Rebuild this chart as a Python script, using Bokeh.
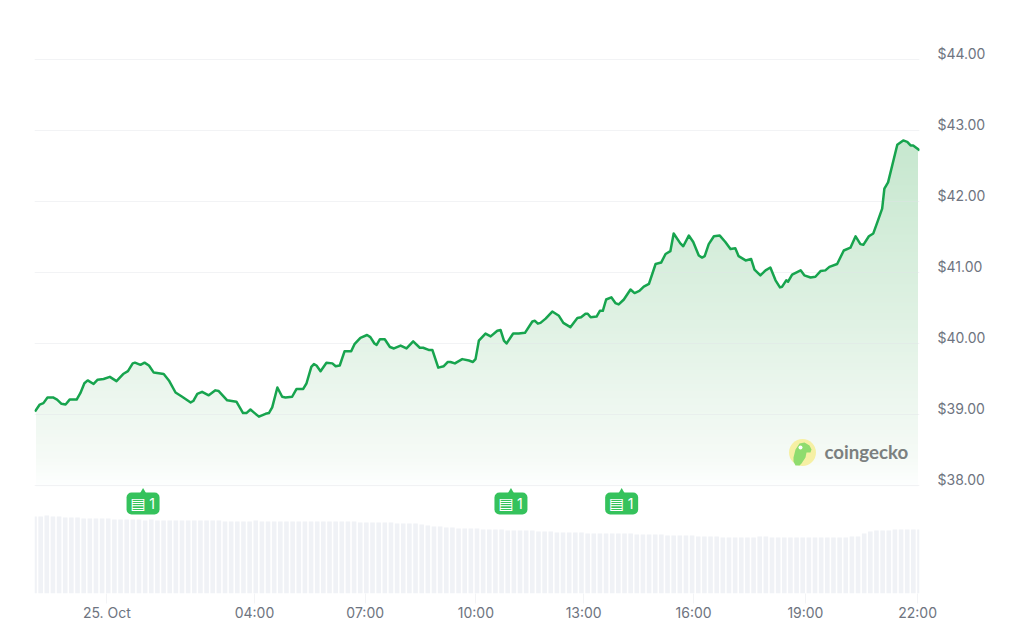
from bokeh.plotting import figure
from bokeh.models import Range1d, LinearAxis, FixedTicker
from bokeh.embed import file_html
from bokeh.resources import INLINE
import numpy as np

# hours relative to 25 Oct 00:00
hours = [-1.95,-1.82,-1.72,-1.61,-1.46,-1.35,-1.23,-1.12,-1.01,-0.82,-0.72,-0.61,-0.52,-0.36,-0.25,-0.09,
 0.08,0.26,0.44,0.57,0.70,0.76,0.91,1.02,1.14,1.27,1.54,1.68,1.86,2.04,2.27,2.34,2.45,2.58,2.76,2.94,3.03,3.26,3.51,3.69,3.78,3.89,3.98,
 4.12,4.30,4.39,4.48,4.62,4.75,4.84,5.02,5.14,5.32,5.41,5.54,5.61,5.68,5.79,5.95,6.11,6.20,6.31,6.44,6.62,6.71,6.87,
 7.05,7.14,7.25,7.31,7.40,7.53,7.67,7.78,7.96,8.12,8.30,8.48,8.57,8.72,8.82,8.98,9.13,9.24,9.31,9.43,9.63,9.81,9.92,9.99,
 10.08,10.26,10.40,10.58,10.67,10.76,10.83,11.01,11.16,11.33,11.53,11.60,11.68,11.75,11.89,12.07,12.25,12.37,12.56,12.75,12.85,12.97,
 13.03,13.11,13.27,13.36,13.44,13.53,13.67,13.78,13.87,14.01,14.19,14.30,14.43,14.55,14.69,14.87,15.02,15.14,15.27,15.36,15.54,15.62,15.77,15.89,
 16.04,16.13,16.20,16.31,16.45,16.61,16.76,16.90,17.03,17.12,17.31,17.46,17.55,17.71,17.85,17.98,18.12,18.24,18.30,18.41,18.46,18.57,18.80,18.90,
 19.07,19.20,19.34,19.47,19.58,19.79,19.97,20.15,20.29,20.42,20.50,20.65,20.77,20.88,21.01,21.07,21.17,21.42,21.58,21.69,21.78,21.85,22.03]
prices = [39.04,39.14,39.16,39.24,39.24,39.21,39.15,39.14,39.21,39.21,39.30,39.44,39.48,39.43,39.49,39.50,
 39.53,39.47,39.57,39.61,39.72,39.73,39.70,39.73,39.69,39.59,39.57,39.48,39.31,39.25,39.17,39.19,39.29,39.32,39.27,39.34,39.33,39.20,39.18,39.02,39.02,39.07,39.03,
 38.97,39.01,39.02,39.10,39.38,39.25,39.24,39.25,39.36,39.36,39.44,39.67,39.71,39.69,39.61,39.73,39.72,39.68,39.69,39.89,39.89,39.99,40.08,
 40.12,40.09,40.00,39.98,40.06,40.06,39.95,39.93,39.97,39.93,40.03,39.94,39.94,39.91,39.91,39.66,39.68,39.74,39.74,39.72,39.78,39.76,39.74,39.78,
 40.04,40.14,40.10,40.18,40.19,40.04,40.00,40.14,40.14,40.15,40.31,40.32,40.28,40.29,40.35,40.45,40.39,40.29,40.23,40.36,40.37,40.42,
 40.42,40.37,40.38,40.46,40.46,40.62,40.65,40.57,40.55,40.62,40.76,40.71,40.74,40.80,40.84,41.12,41.14,41.26,41.30,41.55,41.41,41.37,41.52,41.43,
 41.24,41.21,41.23,41.40,41.51,41.52,41.43,41.33,41.34,41.23,41.17,41.19,41.04,40.96,41.03,41.07,40.89,40.79,40.80,40.89,40.87,40.97,41.03,40.96,
 40.93,40.94,41.02,41.03,41.08,41.12,41.31,41.35,41.51,41.40,41.39,41.51,41.55,41.71,41.90,42.18,42.27,42.80,42.86,42.84,42.79,42.79,42.72]

volumes = [77,77,78,77,77,76,76,76,75,75,75,75,75,74,74,74,74,74,73,74,73,73,73,73,73,73,73,73,73,73,73,72,72,72,72,72,73,72,72,72,
 72,72,72,72,72,72,72,72,72,72,72,72,72,71,71,71,71,71,71,70,70,70,70,69,68,67,67,66,66,65,65,65,65,64,64,64,64,63,63,63,
 63,63,62,62,62,61,61,61,61,61,60,60,60,60,60,60,60,60,59,59,59,59,59,58,58,58,58,58,57,57,57,57,56,56,56,56,56,56,57,57,
 56,56,56,56,56,56,56,56,56,56,56,56,56,57,57,60,62,63,63,63,64,64,64,64,64]

tick_hours = [0.0,4.0,7.0,10.0,12.92,15.90,18.93,21.97]
tick_labels = ["25. Oct","04:00","07:00","10:00","13:00","16:00","19:00","22:00"]
price_ticks = [38,39,40,41,42,43,44]
news_hours = [0.98,10.95,13.95]
news_counts = ["1","1","1"]

FONT = "Inter"
PX_H = 36.9      # pixels per hour
PX_USD = 71.0    # pixels per dollar
x0 = -1.962
x1 = x0 + 885/PX_H
y1 = 39 + (414-8)/PX_USD
y0 = y1 - 585/PX_USD

def hx(px): return (px-34)/PX_H + x0
def vy(py): return y1 - (py-8)/PX_USD

p = figure(width=1005, height=622, frame_width=885, frame_height=585,
           x_range=Range1d(x0,x1), y_range=Range1d(y0,y1),
           y_axis_location=None, output_backend="svg", toolbar_location=None,
           min_border_left=34, min_border_right=86, min_border_top=8, min_border_bottom=29)
p.outline_line_color = None
p.background_fill_color = "white"
p.border_fill_color = "white"

shift = 6/PX_USD
p.extra_y_ranges = {"labels": Range1d(y0-shift,y1-shift), "volume": Range1d(0,585)}
ax = LinearAxis(y_range_name="labels", ticker=FixedTicker(ticks=price_ticks),
                major_label_overrides={v:f"${v:.2f}" for v in price_ticks})
ax.axis_line_color=None; ax.major_tick_line_color=None; ax.minor_tick_line_color=None
ax.major_tick_out=0; ax.major_tick_in=0
ax.major_label_standoff=18
ax.major_label_text_font=FONT; ax.major_label_text_font_size="14px"; ax.major_label_text_color="#6e7480"
p.add_layout(ax,"right")

p.ygrid.visible=False
p.xgrid.visible=False

xa = p.xaxis[0]
xa.ticker = FixedTicker(ticks=tick_hours)
xa.major_label_overrides = dict(zip(tick_hours,tick_labels))
xa.axis_line_color=None
xa.major_tick_line_color="#f3f4f6"; xa.major_tick_out=10; xa.major_tick_in=0
xa.minor_tick_line_color=None
xa.major_label_standoff=0
xa.major_label_text_font=FONT; xa.major_label_text_font_size="14px"; xa.major_label_text_color="#6e7480"

# volume bars
vol_hours = x0 + np.arange(len(volumes))*(x1-x0)/(len(volumes)-1)
p.vbar(x=vol_hours, top=volumes, bottom=0, width=0.125, y_range_name="volume",
       fill_color="#f0f2f6", line_color=None)

# area gradient: opaque bands painted bottom-up, then a white mask above the price line
stop_lv = [37.93, 38.35, 39.2, 40.3, 42.7]
stop_r = [255, 246, 237, 224, 200]
stop_g = [255, 251, 247, 242, 232]
stop_b = [255, 247, 239, 228, 208]
levels = np.arange(37.93, 43.0, 0.05)
cols = ["#%02x%02x%02x" % (int(np.interp(L,stop_lv,stop_r)),int(np.interp(L,stop_lv,stop_g)),int(np.interp(L,stop_lv,stop_b))) for L in levels]
p.quad(left=x0+1.5/PX_H, right=x1-1.5/PX_H, bottom=levels, top=43.1, fill_color=cols, line_color=None)
mask_x = [x0-1] + hours + [x1+1]
mask_y = [prices[0]] + prices + [prices[-1]]
p.varea(x=mask_x, y1=mask_y, y2=43.2, fill_color="white")

# gridlines
p.segment(x0=x0, x1=x1, y0=price_ticks, y1=price_ticks, line_color="#dfe2e6", line_alpha=0.42, line_width=1)

p.line(hours, prices, line_color="#17a44e", line_width=2.5, line_join="round")

# news flags
GREEN="#35c25c"
fw=33/PX_H
p.vbar(x=news_hours, width=fw, top=vy(492), bottom=vy(514), fill_color=GREEN, line_color=None, border_radius=5)
p.scatter(x=news_hours, y=vy(491.5), marker="triangle", size=7, fill_color=GREEN, line_color=None)
p.text(x=news_hours, y=vy(503), text=["▤"]*len(news_hours), x_offset=-5, text_align="center", text_baseline="middle",
       text_color="white", text_font={"value":"DejaVu Sans"}, text_font_size="16px")
p.text(x=news_hours, y=vy(503), text=news_counts, x_offset=9, text_align="center", text_baseline="middle",
       text_color="white", text_font={"value":FONT}, text_font_size="14px")

# watermark
p.scatter(x=[hx(802)], y=[vy(452)], marker="circle", size=27, fill_color="#f6f0a4", line_color=None)
gx=[793,795,799,804,809,811,810,806,805,801,799,795,793]
gy=[457,449,443,442,445,449,452,452,457,463,465,465,461]
p.patch([hx(v) for v in gx],[vy(v) for v in gy], fill_color="#8fdc6e", line_color=None)
p.scatter(x=[hx(800)], y=[vy(447)], marker="circle", size=4, fill_color="white", line_color=None)
p.text(x=[hx(824)], y=[vy(451)], text=["coingecko"], text_align="left", text_baseline="middle",
       text_color="#7b807f", text_font={"value":"Lato"}, text_font_style="bold", text_font_size="18.7px")

open("out.html","w").write(file_html(p, INLINE))
